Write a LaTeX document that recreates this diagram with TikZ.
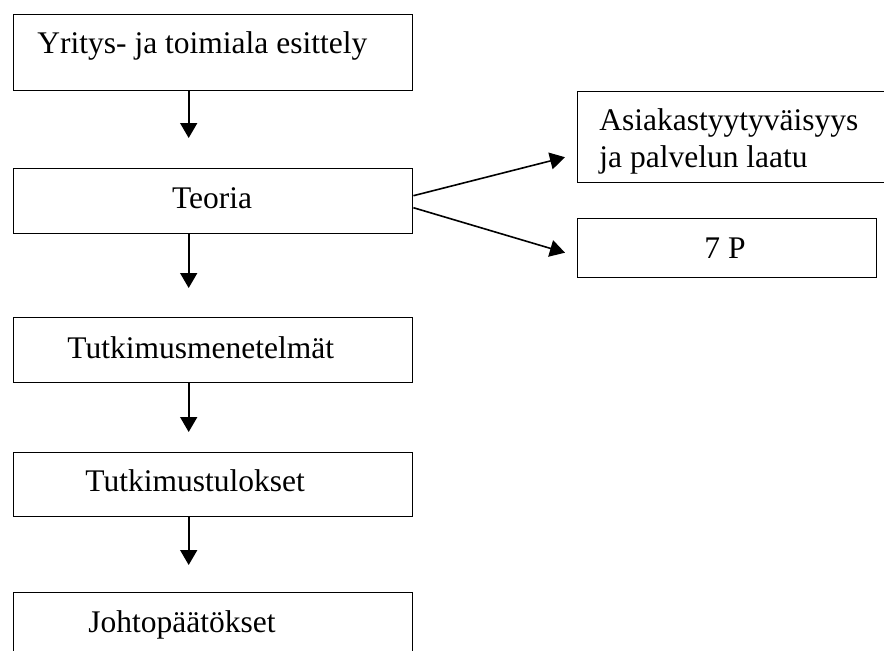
\documentclass[tikz,border=0pt]{standalone}
\usepackage{fontspec}
\setmainfont{Liberation Serif}
\usetikzlibrary{arrows.meta}

\tikzset{
    box/.style = {draw, line width = 0.7pt, inner sep = 0pt, anchor = north west},
    label/.style = {inner sep = 0pt, anchor = base west},
    flow/.style = {line width = 0.8pt, -{Triangle[length = 7.5pt, width = 8.5pt]}}
}

\begin{document}
\begin{tikzpicture}[x = 0.5pt, y = -0.5pt, font = \fontsize{15.75}{18.5}\selectfont]
    \clip (0, 0) rectangle (884, 650);

    % draw main boxes
    \node[box, minimum width = 199.5pt, minimum height = 38pt] (yritys) at (13, 14) {};
    \node[box, minimum width = 199.5pt, minimum height = 32.5pt] (teoria) at (13, 168) {};
    \node[box, minimum width = 199.5pt, minimum height = 32.5pt] (menetelmat) at (13, 317) {};
    \node[box, minimum width = 199.5pt, minimum height = 32pt] (tulokset) at (13, 452) {};
    \node[box, minimum width = 199.5pt, minimum height = 40pt] (johto) at (13, 592) {};


    % draw side boxes
    \node[box, minimum width = 165pt, minimum height = 45.5pt] (asiakas) at (577, 91) {};
    \node[box, minimum width = 149.5pt, minimum height = 29.5pt] (sevenp) at (577, 218) {};


    % draw texts
    \node[label] (yritystext) at (37, 53) {Yritys- ja toimiala esittely};
    \node[label, anchor = base] (teoriatext) at (212, 208) {Teoria};
    \node[label] (menetelmattext) at (67, 358) {Tutkimusmenetelmät};
    \node[label] (tuloksettext) at (85, 491) {Tutkimustulokset};
    \node[label] (johtotext) at (88, 632) {Johtopäätökset};

    \node[label, align = left] (asiakastext) at (599, 167) {Asiakastyytyväisyys\\ja palvelun laatu};
    \node[label, anchor = base] (sevenptext) at (725, 258) {7 P};


    % draw arrows
    \draw[flow] ([xshift = -12.25pt]yritys.south) -- ([xshift = -12.25pt, yshift = 15pt]teoria.north);
    \draw[flow] ([xshift = -12.25pt]teoria.south) -- ([xshift = -12.25pt, yshift = 14.5pt]menetelmat.north);
    \draw[flow] ([xshift = -12.25pt]menetelmat.south) -- ([xshift = -12.25pt, yshift = 10pt]tulokset.north);
    \draw[flow] ([xshift = -12.25pt]tulokset.south) -- ([xshift = -12.25pt, yshift = 13.5pt]johto.north);

    \draw[flow] ([yshift = 2.75pt]teoria.east) -- ([xshift = -6pt, yshift = -10pt]asiakas.west);
    \draw[flow] ([yshift = -3.25pt]teoria.east) -- ([xshift = -6pt, yshift = -2.25pt]sevenp.west);

\end{tikzpicture}
\end{document}
